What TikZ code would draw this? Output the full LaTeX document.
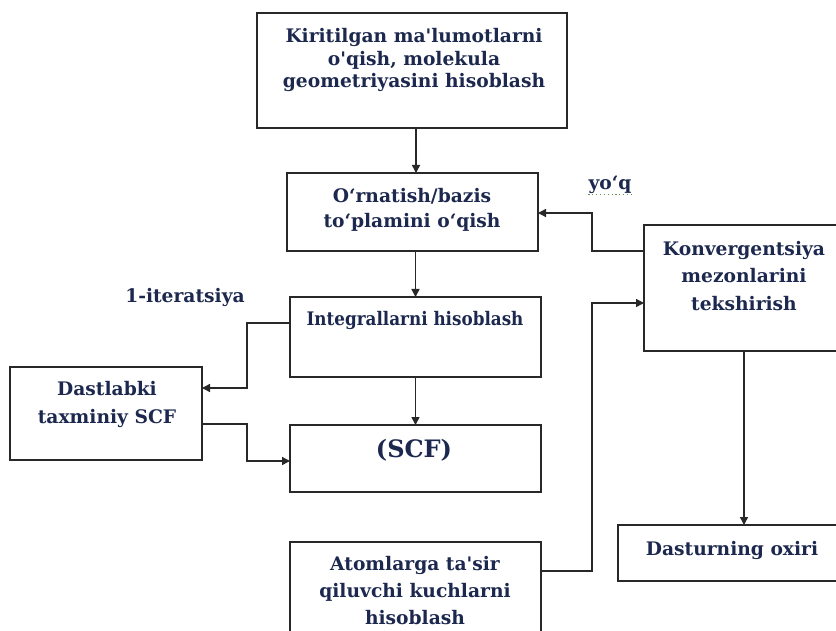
\documentclass[tikz,border=0pt]{standalone}
\usepackage{fontspec}
\setmainfont{DejaVu Serif}
\usetikzlibrary{arrows.meta}
\definecolor{txtc}{RGB}{28,40,78}
\definecolor{lnc}{RGB}{40,40,40}
\definecolor{spellc}{RGB}{110,140,90}
\begin{document}
\begin{tikzpicture}[x=0.75pt,y=-0.75pt,
  box/.style={draw=lnc,line width=1.1pt,inner sep=0pt,outer sep=0pt},
  sz/.style 2 args={minimum width={#1*0.75pt},minimum height={#2*0.75pt}},
  lbl/.style={text=txtc,font=\bfseries\fontsize{14}{#1}\selectfont,align=center,inner sep=0pt},
  lbl/.default=17,
  arr/.style={draw=lnc,line width=1.1pt,-{Triangle[length=6pt,width=6pt]}},
  uline/.style={draw=spellc,dotted,line width=0.9pt}]
\fill[white] (0,0) rectangle (836,631);
\useasboundingbox (0,0) rectangle (836,631);
\clip (0,0) rectangle (836,631);

% boxes
\node[box,sz={310}{115}] (b1) at (412,70.5) {};
\node[box,sz={251}{78}] (b2) at (412.5,212) {};
\node[box,sz={251}{80}] (integ) at (415.5,337) {};
\node[box,sz={251}{67}] (scf) at (415.5,458.5) {};
\node[box,sz={192}{93}] (dast) at (106,413.5) {};
\node[box,sz={251}{128}] (atom) at (415.5,606) {};
\node[box,sz={206}{126}] (konv) at (747,288) {};
\node[box,sz={232}{56}] (oxiri) at (734,553) {};

% texts
\node[lbl=17] (t1) at (414,60) {Kiritilgan ma\textquotesingle lumotlarni\\o\textquotesingle qish, molekula\\geometriyasini hisoblash};
\node[lbl=19] (t2) at (412,210) {O‘rnatish/bazis\\to‘plamini o‘qish};
\node[lbl] (t3) at (415,320) {\scalebox{0.9}[1]{Integrallarni hisoblash}};
\node[text=txtc,font=\bfseries\fontsize{18}{22}\selectfont,inner sep=0pt] (t4) at (414,450) {(SCF)};
\node[lbl=21] (t5) at (107,404) {Dastlabki\\taxminiy SCF};
\node[lbl] (iter) at (185,297) {1-iteratsiya};
\node[lbl] (yoq) at (610,185) {yo‘q};
\node[lbl=20.5] (t6) at (744,276) {Konvergentsiya\\mezonlarini\\tekshirish};
\node[lbl] (t7) at (732,550) {Dasturning oxiri};
\node[lbl=20.25] (t8) at (415,591) {Atomlarga ta\textquotesingle sir\\qiluvchi kuchlarni\\hisoblash};
\draw[uline] ([yshift=-3.75pt]yoq.base west) -- ([yshift=-3.75pt]yoq.base east);

% connector bend points
\coordinate (p1) at (247,323);
\coordinate (p2) at (247,388);
\coordinate (p3) at (247,424);
\coordinate (p4) at (247,461);
\coordinate (p5) at (592,251);
\coordinate (p6) at (592,213);
\coordinate (p7) at (592,571);
\coordinate (p8) at (592,303);

% connectors
\draw[arr] ([xshift=3pt]b1.south) -- ([xshift=3pt]b1.south |- b2.north);
\draw[arr] (b2.south -| integ.north) -- (integ.north);
\draw[arr] (integ.south) -- (scf.north);
\draw[arr] (integ.west |- p1) -- (p1) -- (p2) -- (dast.east |- p2);
\draw[arr] (dast.east |- p3) -- (p3) -- (p4) -- (scf.west |- p4);
\draw[arr] (konv.west |- p5) -- (p5) -- (p6) -- (b2.east |- p6);
\draw[arr] (atom.east |- p7) -- (p7) -- (p8) -- (konv.west |- p8);
\draw[arr] ([xshift=-2.25pt]konv.south) -- ([xshift=-2.25pt]konv.south |- oxiri.north);
\end{tikzpicture}
\end{document}
